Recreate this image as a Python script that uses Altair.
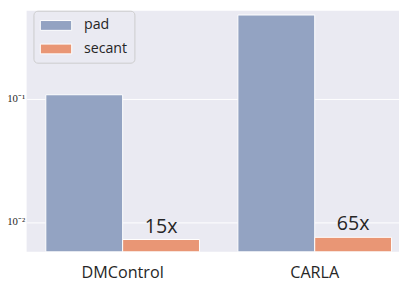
import altair as alt
import pandas as pd

envs = ["DMControl", "CARLA"]
methods = ["pad", "secant"]
pad_vals = [0.108, 0.48]
secant_vals = [0.0072, 0.0075]
speedup = ["15x", "65x"]
colors = ["#93A3C2", "#E99675"]
y_min, y_max = 0.00572, 0.52

rows = []
for i, e in enumerate(envs):
    rows.append({"env": e, "method": "pad", "value": pad_vals[i], "label": ""})
    rows.append({"env": e, "method": "secant", "value": secant_vals[i], "label": speedup[i]})
df = pd.DataFrame(rows)
txt_df = df[df["method"] == "secant"]

x_enc = alt.X("env:N", sort=envs,
              scale=alt.Scale(paddingInner=0, paddingOuter=0),
              axis=alt.Axis(title=None, labelAngle=0, ticks=False, domain=False, grid=False,
                            labelFont="Open Sans", labelFontSize=16.5, labelColor="#262626",
                            labelPadding=13))
xo_enc = alt.XOffset("method:N", sort=methods,
                     scale=alt.Scale(domain=methods, paddingInner=0, paddingOuter=0.25))
y_enc = alt.Y("value:Q",
              scale=alt.Scale(type="log", domain=[y_min, y_max], nice=False, zero=False),
              axis=alt.Axis(values=[0.01, 0.1], title=None, ticks=False, domain=False,
                            gridColor="white", gridWidth=1,
                            labelExpr="datum.value < 0.05 ? '10⁻²' : '10⁻¹'",
                            labelFont="Liberation Serif", labelFontSize=11,
                            labelColor="#262626", labelPadding=2))

bars = alt.Chart(df).mark_bar(stroke="white", strokeWidth=1, opacity=1).encode(
    x=x_enc,
    xOffset=xo_enc,
    y=y_enc,
    y2=alt.datum(y_min),
    color=alt.Color("method:N", sort=methods,
                    scale=alt.Scale(domain=methods, range=colors),
                    legend=alt.Legend(title=None, orient="none", legendX=7, legendY=0,
                                      fillColor="#EAEAF2", strokeColor="#CCCCCC",
                                      cornerRadius=4, padding=6.5,
                                      symbolType="M-1,-0.625H3V0.625H-1Z", symbolSize=256,
                                      symbolStrokeColor="white", symbolStrokeWidth=1,
                                      symbolOpacity=1,
                                      labelFont="Open Sans", labelFontSize=14.5,
                                      labelColor="#262626", labelOffset=28, rowPadding=8)),
)

text = alt.Chart(txt_df).mark_text(baseline="alphabetic", dy=-7, fontSize=20,
                                   font="Open Sans", color="#262626").encode(
    x=alt.X("env:N", sort=envs),
    xOffset=alt.XOffset("method:N", sort=methods),
    y=alt.Y("value:Q"),
    text="label:N",
)

chart = alt.layer(bars, text).properties(
    width=392, height=246,
    padding={"left": 19, "top": 0, "right": -12, "bottom": 28},
    autosize="none",
).configure_view(stroke=None, fill="#EAEAF2")

chart.save("out.html", embed_options={"renderer": "svg", "actions": False})
